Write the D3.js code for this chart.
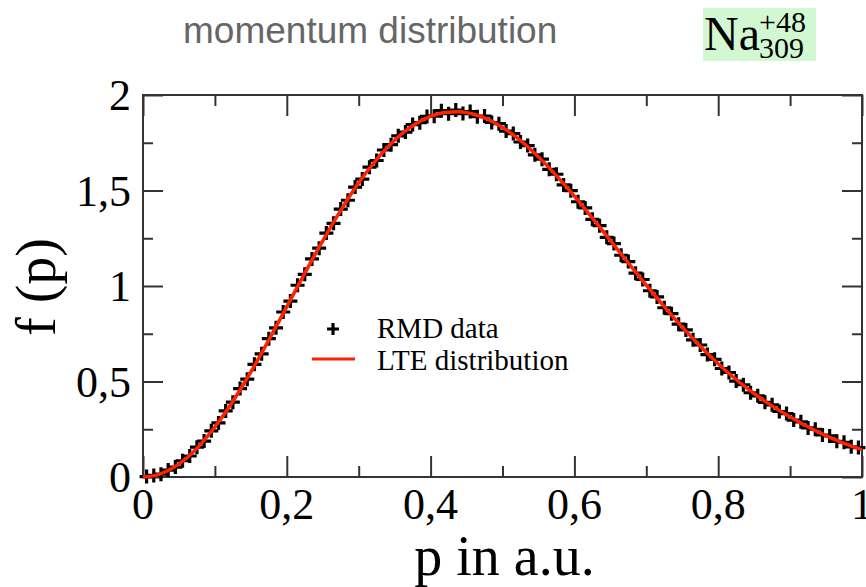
<!DOCTYPE html>
<html>
<head>
<meta charset="utf-8">
<script src="https://cdn.jsdelivr.net/npm/d3@7"></script>
<style>
  body { margin: 0; background: #fff; }
  svg { display: block; }
</style>
</head>
<body>
<div class="chart"></div>
<script>
// LTE curve, every 0.02
var lteP = [0, 0.02, 0.04, 0.06, 0.08, 0.10, 0.12, 0.14, 0.16, 0.18, 0.20,
            0.22, 0.24, 0.26, 0.28, 0.30, 0.32, 0.34, 0.36, 0.38, 0.40,
            0.42, 0.44, 0.46, 0.48, 0.50, 0.52, 0.54, 0.56, 0.58, 0.60,
            0.62, 0.64, 0.66, 0.68, 0.70, 0.72, 0.74, 0.76, 0.78, 0.80,
            0.82, 0.84, 0.86, 0.88, 0.90, 0.92, 0.94, 0.96, 0.98, 1.00];
var lteF = [0, 0.011, 0.044, 0.097, 0.171, 0.262, 0.368, 0.487, 0.616, 0.752, 0.892,
            1.032, 1.170, 1.302, 1.426, 1.540, 1.640, 1.726, 1.797, 1.851, 1.888,
            1.908, 1.912, 1.899, 1.872, 1.830, 1.777, 1.712, 1.638, 1.557, 1.470,
            1.379, 1.286, 1.191, 1.097, 1.004, 0.914, 0.827, 0.744, 0.666, 0.593,
            0.526, 0.465, 0.410, 0.360, 0.315, 0.272, 0.234, 0.200, 0.169, 0.142];

// RMD data points, one every 0.01
var rmdP = [0.005, 0.015, 0.025, 0.035, 0.045, 0.055, 0.065, 0.075, 0.085, 0.095,
            0.105, 0.115, 0.125, 0.135, 0.145, 0.155, 0.165, 0.175, 0.185, 0.195,
            0.205, 0.215, 0.225, 0.235, 0.245, 0.255, 0.265, 0.275, 0.285, 0.295,
            0.305, 0.315, 0.325, 0.335, 0.345, 0.355, 0.365, 0.375, 0.385, 0.395,
            0.405, 0.415, 0.425, 0.435, 0.445, 0.455, 0.465, 0.475, 0.485, 0.495,
            0.505, 0.515, 0.525, 0.535, 0.545, 0.555, 0.565, 0.575, 0.585, 0.595,
            0.605, 0.615, 0.625, 0.635, 0.645, 0.655, 0.665, 0.675, 0.685, 0.695,
            0.705, 0.715, 0.725, 0.735, 0.745, 0.755, 0.765, 0.775, 0.785, 0.795,
            0.805, 0.815, 0.825, 0.835, 0.845, 0.855, 0.865, 0.875, 0.885, 0.895,
            0.905, 0.915, 0.925, 0.935, 0.945, 0.955, 0.965, 0.975, 0.985, 0.995];
var rmdF = [0.002, 0.008, 0.015, 0.036, 0.052, 0.085, 0.110, 0.156, 0.188, 0.242,
            0.283, 0.346, 0.392, 0.463, 0.512, 0.590, 0.645, 0.724, 0.781, 0.864,
            0.921, 1.004, 1.061, 1.142, 1.198, 1.277, 1.328, 1.403, 1.449, 1.518,
            1.560, 1.622, 1.657, 1.712, 1.740, 1.786, 1.806, 1.845, 1.855, 1.888,
            1.889, 1.918, 1.902, 1.921, 1.903, 1.913, 1.886, 1.890, 1.856, 1.850,
            1.811, 1.798, 1.754, 1.735, 1.687, 1.664, 1.611, 1.585, 1.529, 1.499,
            1.441, 1.409, 1.349, 1.316, 1.255, 1.222, 1.161, 1.128, 1.067, 1.034,
            0.975, 0.943, 0.886, 0.855, 0.800, 0.770, 0.718, 0.691, 0.641, 0.616,
            0.568, 0.547, 0.502, 0.483, 0.441, 0.425, 0.391, 0.378, 0.343, 0.332,
            0.298, 0.289, 0.257, 0.250, 0.220, 0.215, 0.187, 0.182, 0.158, 0.154];

var xMajor = [0, 0.2, 0.4, 0.6, 0.8, 1];
var xMajorLabels = ["0", "0,2", "0,4", "0,6", "0,8", "1"];
var xMinor = [0.1, 0.3, 0.5, 0.7, 0.9];
var yMajor = [0, 0.5, 1, 1.5, 2];
var yMajorLabels = ["0", "0,5", "1", "1,5", "2"];
var yMinor = [0.25, 0.75, 1.25, 1.75];

var W = 866, H = 587;
var plot = {left: 143, right: 862, top: 95, bottom: 477};
var axisColor = "#333",
    red = "#ff2200",
    serif = "'Liberation Serif', 'Times New Roman', serif",
    cross = "M-7,0H7M0,-7V7";

var svg = d3.select(".chart").append("svg")
    .attr("width", W)
    .attr("height", H);

var x = d3.scaleLinear().domain([0, 1]).range([plot.left, plot.right]);
var y = d3.scaleLinear().domain([0, 2]).range([plot.bottom, plot.top]);

// ticks on all four sides, pointing inward
function tickAxis(axisFn, scale, values, size, transform) {
  svg.append("g")
    .attr("transform", transform)
    .call(axisFn(scale).tickValues(values).tickSize(size).tickFormat(""))
    .call(g => g.select(".domain").remove())
    .selectAll("line")
    .attr("stroke", axisColor)
    .attr("stroke-width", 2);
}
tickAxis(d3.axisTop, x, xMajor, 21, `translate(0, ${plot.bottom})`);
tickAxis(d3.axisTop, x, xMinor, 11, `translate(0, ${plot.bottom})`);
tickAxis(d3.axisBottom, x, xMajor, 21, `translate(0, ${plot.top})`);
tickAxis(d3.axisBottom, x, xMinor, 11, `translate(0, ${plot.top})`);
tickAxis(d3.axisRight, y, yMajor, 20, `translate(${plot.left}, 0)`);
tickAxis(d3.axisRight, y, yMinor, 10, `translate(${plot.left}, 0)`);
tickAxis(d3.axisLeft, y, yMajor, 20, `translate(${plot.right}, 0)`);
tickAxis(d3.axisLeft, y, yMinor, 10, `translate(${plot.right}, 0)`);

svg.append("rect")
  .attr("x", plot.left)
  .attr("y", plot.top)
  .attr("width", plot.right - plot.left)
  .attr("height", plot.bottom - plot.top)
  .attr("fill", "none")
  .attr("stroke", axisColor)
  .attr("stroke-width", 2);

// tick labels
svg.append("g").selectAll("text")
  .data(xMajor)
  .enter().append("text")
  .attr("x", d => x(d))
  .attr("y", 519)
  .attr("text-anchor", "middle")
  .attr("font-family", serif)
  .attr("font-size", 44)
  .text((d, i) => xMajorLabels[i]);

svg.append("g").selectAll("text")
  .data(yMajor)
  .enter().append("text")
  .attr("x", 131)
  .attr("y", d => y(d) + 15)
  .attr("text-anchor", "end")
  .attr("font-family", serif)
  .attr("font-size", 44)
  .text((d, i) => yMajorLabels[i]);

// data
var rmd = d3.zip(rmdP, rmdF);
var lte = d3.zip(lteP, lteF);

svg.append("g").selectAll("path")
  .data(rmd)
  .enter().append("path")
  .attr("d", cross)
  .attr("transform", d => `translate(${x(d[0])}, ${y(d[1])})`)
  .attr("stroke", "#000")
  .attr("stroke-width", 3.2);

var line = d3.line()
  .x(d => x(d[0]))
  .y(d => y(d[1]))
  .curve(d3.curveMonotoneX);

svg.append("path")
  .datum(lte)
  .attr("d", line)
  .attr("fill", "none")
  .attr("stroke", red)
  .attr("stroke-width", 3.5);

// legend
var legend = svg.append("g").attr("font-family", serif).attr("font-size", 29);
legend.append("path")
  .attr("d", "M-6,0H6M0,-6V6")
  .attr("transform", "translate(333, 329)")
  .attr("stroke", "#000")
  .attr("stroke-width", 3.2);
legend.append("line")
  .attr("x1", 312).attr("x2", 355)
  .attr("y1", 359).attr("y2", 359)
  .attr("stroke", red)
  .attr("stroke-width", 3);
legend.append("text").attr("x", 377).attr("y", 338).text("RMD data");
legend.append("text").attr("x", 377).attr("y", 370).text("LTE distribution");

// axis titles
svg.append("text")
  .attr("x", (plot.left + plot.right) / 2 + 2)
  .attr("y", 575)
  .attr("text-anchor", "middle")
  .attr("font-family", serif)
  .attr("font-size", 56)
  .text("p in a.u.");

svg.append("text")
  .attr("transform", "translate(55, 287) rotate(-90)")
  .attr("text-anchor", "middle")
  .attr("font-family", serif)
  .attr("font-size", 56)
  .text("f (p)");

// header
svg.append("text")
  .attr("x", 183)
  .attr("y", 43)
  .attr("font-family", "'Liberation Sans', Arial, sans-serif")
  .attr("font-size", 37)
  .attr("fill", "#666")
  .text("momentum distribution");

svg.append("rect")
  .attr("x", 703).attr("y", 8)
  .attr("width", 113).attr("height", 53)
  .attr("fill", "#d2f8d2");
var na = svg.append("g").attr("font-family", serif);
na.append("text").attr("x", 704).attr("y", 50).attr("font-size", 48).text("Na");
na.append("text").attr("x", 759).attr("y", 32).attr("font-size", 30).text("+48");
na.append("text").attr("x", 759).attr("y", 58).attr("font-size", 30).text("309");
</script>
</body>
</html>
